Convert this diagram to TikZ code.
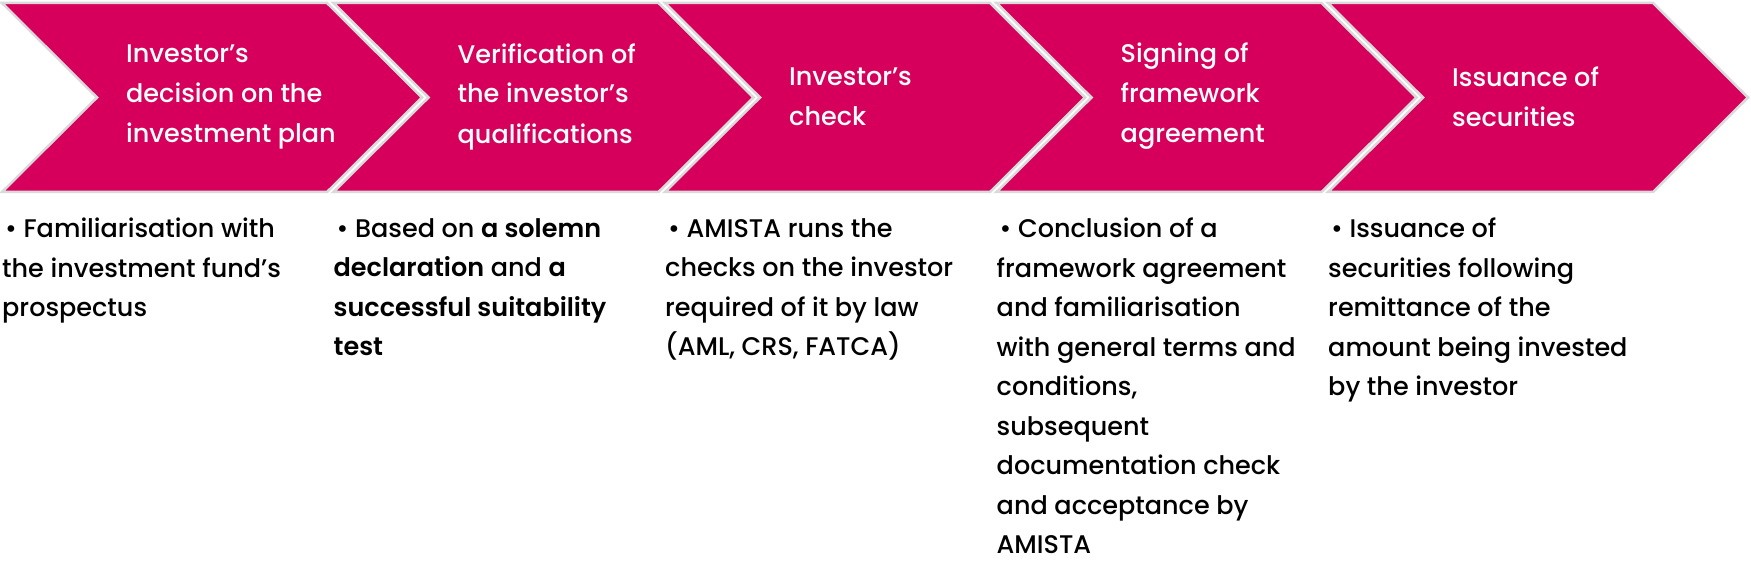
\documentclass[tikz,border=0pt]{standalone}
\usepackage{fontspec}
\setmainfont{Poppins}[UprightFont={* Medium},BoldFont={* SemiBold}]
\usepackage{xcolor}
\usepackage{tikz}

\definecolor{stagered}{RGB}{214,0,92}
\definecolor{stageedge}{RGB}{218,218,218}

\tikzset{
  stage/.style={fill=stagered,draw=stageedge,line width=2.5pt,line join=miter},
  head/.style={anchor=west,align=left,text=white,inner sep=0pt,font=\fontsize{25.5}{40}\selectfont},
  body/.style={anchor=north west,align=left,text=black,inner sep=0pt,font=\fontsize{25.5}{39.5}\selectfont}
}

\begin{document}
\begin{tikzpicture}[x=1pt,y=-1pt]
    \useasboundingbox (0,0) rectangle (1751,561);
    % the five stages
    \draw[stage] (2,3) -- (327,3) -- (422,97.5) -- (327,192) -- (2,192) -- (97,97.5) -- cycle;
    \draw[stage] (333.5,3) -- (658.5,3) -- (753.5,97.5) -- (658.5,192) -- (333.5,192) -- (428.5,97.5) -- cycle;
    \draw[stage] (665,3) -- (990,3) -- (1085,97.5) -- (990,192) -- (665,192) -- (760,97.5) -- cycle;
    \draw[stage] (996.5,3) -- (1321.5,3) -- (1416.5,97.5) -- (1321.5,192) -- (996.5,192) -- (1091.5,97.5) -- cycle;
    \draw[stage] (1328,3) -- (1653,3) -- (1748,97.5) -- (1653,192) -- (1328,192) -- (1423,97.5) -- cycle;
    % stage titles
    \node[head] (h1) at (126,96.5) {Investor’s\\decision on the\\investment plan};
    \node[head] (h2) at (457.5,96.5) {Verification of\\the investor’s\\qualifications};
    \node[head] (h3) at (789,96.5) {Investor’s\\check};
    \node[head] (h4) at (1120.5,96.5) {Signing of\\framework\\agreement};
    \node[head] (h5) at (1452,96.5) {Issuance of\\securities};
    % descriptions
    \node[body] (d1) at (2,218) {\hspace{3pt}• Familiarisation with\\the investment fund’s\\prospectus};
    \node[body] (d2) at (333.5,218) {\hspace{3pt}• Based on \textbf{a solemn}\\\textbf{declaration} and \textbf{a}\\\textbf{successful suitability}\\\textbf{test}};
    \node[body] (d3) at (665,218) {\hspace{3pt}• AMISTA runs the\\checks on the investor\\required of it by law\\(AML, CRS, FATCA)};
    \node[body] (d4) at (996.5,218) {\hspace{3pt}• Conclusion of a\\framework agreement\\and familiarisation\\with general terms and\\conditions,\\subsequent\\documentation check\\and acceptance by\\AMISTA};
    \node[body] (d5) at (1328,218) {\hspace{3pt}• Issuance of\\securities following\\remittance of the\\amount being invested\\by the investor};
\end{tikzpicture}
\end{document}
